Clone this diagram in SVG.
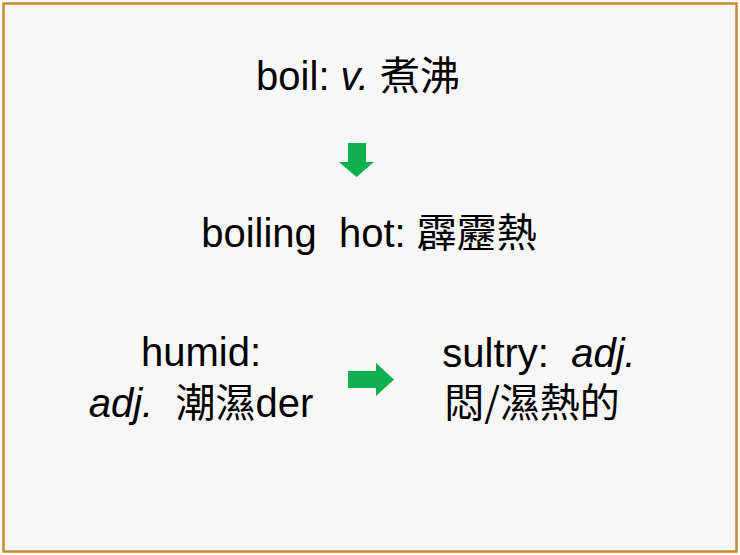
<svg xmlns="http://www.w3.org/2000/svg" width="740" height="555" viewBox="0 0 740 555">
<style>
.t{font-family:"Liberation Sans","Noto Sans CJK TC",sans-serif;font-size:40px;fill:#000;text-anchor:middle;white-space:pre}
.c{font-family:"Noto Sans CJK TC","Liberation Sans",sans-serif}
.i{font-style:italic}
.arr{fill:#10B050}
</style>
<rect x="0" y="0" width="740" height="555" fill="#fff"/>
<rect x="3.5" y="3.5" width="733" height="548" fill="#F7F7F7" stroke="#C88A30" stroke-width="2.5"/>
<g id="boil"><text class="t" x="358" y="90" xml:space="preserve">boil: <tspan class="i">v.</tspan> <tspan class="c">煮沸</tspan></text></g>
<g id="boiling-hot"><text class="t" x="369" y="247" xml:space="preserve">boiling  hot: <tspan class="c">霹靂熱</tspan></text></g>
<g id="humid"><text class="t" x="201" y="366">humid:</text><text class="t" x="201" y="417" xml:space="preserve"><tspan class="i">adj.</tspan>  <tspan class="c">潮濕</tspan>der</text></g>
<g id="sultry"><text class="t" x="539" y="367" xml:space="preserve">sultry:  <tspan class="i">adj.</tspan></text><text class="t" x="532" y="417"><tspan class="c">悶/濕熱的</tspan></text></g>
<g id="connectors">
<polygon class="arr" points="348,143 366,143 366,162 374,162 356.5,177 339,162 348,162"/>
<polygon class="arr" points="348,371 376,371 376,363 394,379.5 376,396 376,388 348,388"/>
</g>
</svg>
